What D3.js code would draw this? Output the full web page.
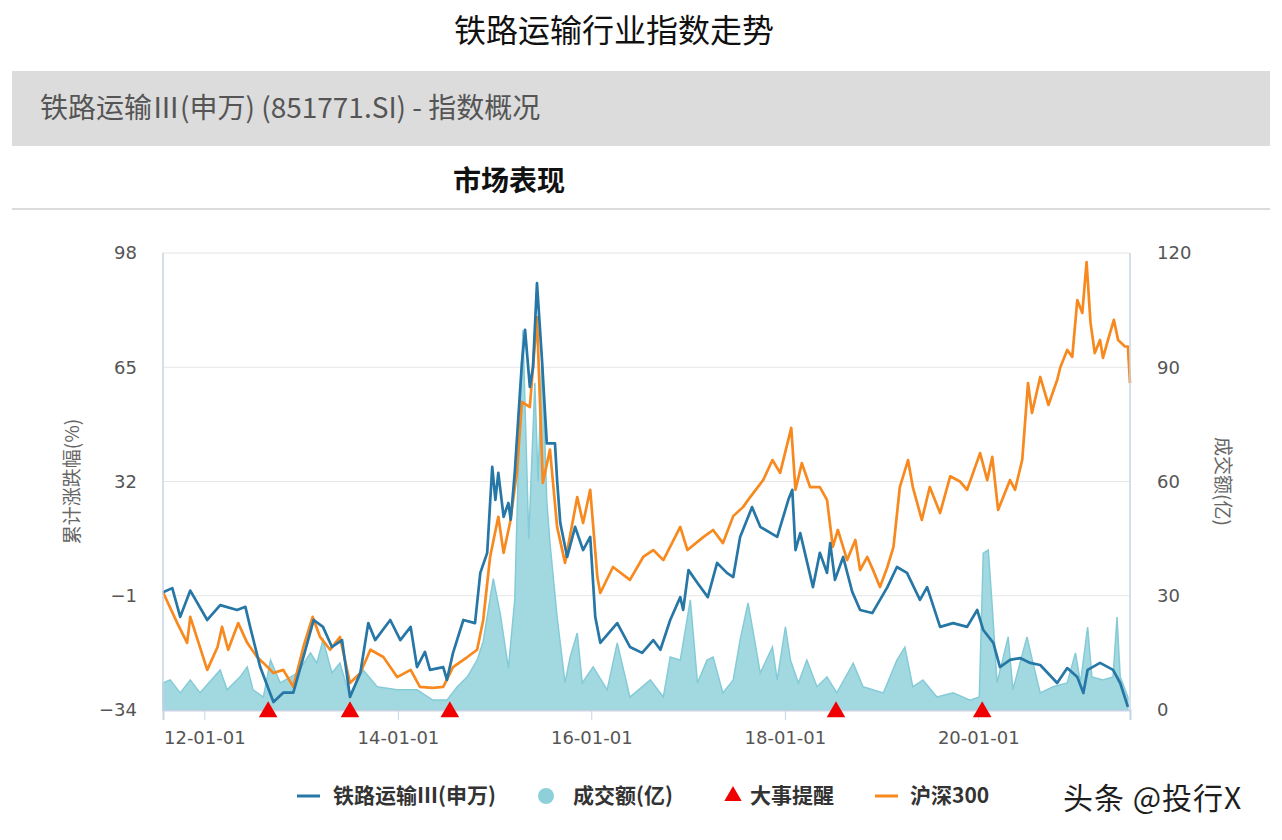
<!DOCTYPE html>
<html>
<head>
<meta charset="utf-8">
<script src="https://cdn.jsdelivr.net/npm/d3@7"></script>
<style>
  body { margin: 0; background: #fff; font-family: "Noto Sans CJK SC", "Noto Sans", sans-serif; }
</style>
</head>
<body>
<svg id="chart" width="1282" height="840"></svg>
<script>
// 铁路运输III(申万) cumulative change, %
var railSeries = [
  ["2011-07-29", 0], ["2011-09-02", 1.2], ["2011-10-02", -7.1], ["2011-11-09", 0.5],
  ["2012-01-12", -8], ["2012-03-01", -3.7], ["2012-05-04", -5.1], ["2012-06-04", -4.2],
  ["2012-06-22", -10], ["2012-07-30", -21.6], ["2012-09-18", -31.7], ["2012-10-25", -29],
  ["2012-12-02", -29], ["2013-01-09", -18.7], ["2013-02-17", -8], ["2013-03-24", -10],
  ["2013-04-27", -15.8], ["2013-06-04", -13.8], ["2013-07-04", -30.2], ["2013-08-12", -23.3],
  ["2013-09-11", -8.9], ["2013-10-07", -13.8], ["2013-12-03", -8], ["2014-01-10", -13.8],
  ["2014-02-18", -10], ["2014-03-14", -21.6], ["2014-04-13", -17.2], ["2014-05-02", -22.4],
  ["2014-06-21", -21.6], ["2014-07-05", -25.3], ["2014-07-28", -17.5], ["2014-09-05", -8],
  ["2014-10-19", -8.9], ["2014-11-08", 5.6], ["2014-12-04", 11.4], ["2014-12-23", 36.2],
  ["2015-01-04", 26.7], ["2015-01-15", 34.5], ["2015-02-04", 21.8], ["2015-02-22", 25.8],
  ["2015-03-03", 21], ["2015-03-18", 34.5], ["2015-04-14", 66.2], ["2015-04-26", 75.8],
  ["2015-05-14", 59.3], ["2015-05-26", 65], ["2015-06-10", 89.3], ["2015-06-29", 67],
  ["2015-07-17", 43], ["2015-08-17", 43], ["2015-08-25", 32.3], ["2015-09-06", 20],
  ["2015-10-02", 10.2], ["2015-11-01", 18.9], ["2015-12-01", 12.2], ["2015-12-28", 16],
  ["2016-01-16", -7.1], ["2016-02-04", -14.6], ["2016-04-08", -8.9], ["2016-05-26", -15.8],
  ["2016-07-11", -17.5], ["2016-08-22", -13.8], ["2016-09-18", -16.6], ["2016-10-25", -8],
  ["2016-12-02", -1.4], ["2016-12-13", -5.1], ["2017-01-02", 6.4], ["2017-02-05", 2.7],
  ["2017-03-16", -1.4], ["2017-04-20", 8.5], ["2017-05-27", 5.6], ["2017-06-20", 4.4],
  ["2017-07-16", 16], ["2017-08-30", 24.6], ["2017-09-30", 18.9], ["2017-12-03", 16],
  ["2018-01-14", 26.7], ["2018-01-29", 29.6], ["2018-02-10", 12.2], ["2018-02-28", 17.1],
  ["2018-04-17", 1.5], ["2018-05-13", 11.4], ["2018-06-09", 5.6], ["2018-06-21", 14.2],
  ["2018-07-09", 3.6], ["2018-08-09", 10.2], ["2018-09-12", 0.2], ["2018-10-12", -5.1],
  ["2018-11-27", -6], ["2019-01-23", 1.5], ["2019-02-28", 7.3], ["2019-04-07", 5.6],
  ["2019-05-26", -2.2], ["2019-06-22", 1.5], ["2019-08-10", -10], ["2019-09-28", -8.9],
  ["2019-11-20", -10], ["2019-12-28", -5.1], ["2020-01-20", -10.9], ["2020-02-27", -14.6],
  ["2020-03-23", -21.6], ["2020-04-30", -19.5], ["2020-06-07", -19], ["2020-07-15", -20.4],
  ["2020-08-22", -21], ["2020-10-25", -26.2], ["2020-12-02", -21.9], ["2021-01-09", -24.5],
  ["2021-02-01", -29.1], ["2021-02-17", -22.4], ["2021-04-05", -20.4], ["2021-05-24", -22.4],
  ["2021-06-20", -26.2], ["2021-07-19", -33.1]
];

// 沪深300 cumulative change, %
var hs300Series = [
  ["2011-07-29", 0], ["2011-09-21", -8.9], ["2011-10-28", -14.6], ["2011-11-09", -7.1],
  ["2012-01-12", -22.4], ["2012-02-20", -15.8], ["2012-03-08", -10], ["2012-03-31", -16.6],
  ["2012-05-08", -8.9], ["2012-06-11", -14.6], ["2012-07-18", -18.7], ["2012-08-11", -20.4],
  ["2012-09-18", -23.3], ["2012-10-25", -22.4], ["2012-12-02", -27.3], ["2013-01-09", -15.8],
  ["2013-02-13", -7.1], ["2013-03-13", -12.9], ["2013-04-20", -16.6], ["2013-05-27", -12.9],
  ["2013-07-04", -26.2], ["2013-08-12", -23.3], ["2013-09-19", -16.6], ["2013-11-07", -18.7],
  ["2013-12-29", -24.5], ["2014-02-18", -22.4], ["2014-03-25", -27.3], ["2014-05-13", -27.6],
  ["2014-06-21", -27.3], ["2014-07-28", -21.6], ["2014-09-20", -18.7], ["2014-10-27", -16.6],
  ["2014-11-19", -8], ["2014-12-15", 10.2], ["2015-01-15", 21.8], ["2015-02-04", 11.4],
  ["2015-02-28", 20], ["2015-03-26", 34.5], ["2015-04-14", 55], ["2015-05-14", 53.5],
  ["2015-06-10", 79.5], ["2015-07-02", 31.6], ["2015-07-29", 41.2], ["2015-08-25", 18.9],
  ["2015-09-24", 8.5], ["2015-11-09", 27.5], ["2015-12-01", 20], ["2015-12-28", 29.6],
  ["2016-01-24", 4.4], ["2016-02-04", -0.2], ["2016-03-23", 7.3], ["2016-05-26", 3.6],
  ["2016-07-15", 10.2], ["2016-08-22", 12.2], ["2016-09-29", 9.3], ["2016-12-02", 18.9],
  ["2016-12-29", 12.2], ["2017-02-28", 16], ["2017-04-05", 18], ["2017-05-12", 14.2],
  ["2017-06-20", 22], ["2017-07-27", 24.6], ["2017-08-23", 27.5], ["2017-10-11", 32.4],
  ["2017-11-15", 38.2], ["2017-12-14", 34.5], ["2018-01-25", 47.5], ["2018-02-10", 29.6],
  ["2018-03-06", 37.3], ["2018-04-06", 30.4], ["2018-05-13", 30.4], ["2018-06-09", 26.7],
  ["2018-07-01", 13.1], ["2018-07-20", 18], ["2018-08-24", 9.3], ["2018-09-24", 15.1],
  ["2018-10-12", 6.4], ["2018-11-08", 10.2], ["2018-11-30", 6.4], ["2018-12-26", 1.5],
  ["2019-01-23", 7.3], ["2019-02-15", 13.1], ["2019-03-11", 30.4], ["2019-04-11", 38.2],
  ["2019-04-29", 30.4], ["2019-06-02", 20.9], ["2019-07-02", 30.4], ["2019-08-10", 22.9],
  ["2019-09-17", 33.5], ["2019-10-24", 32], ["2019-11-20", 29.6], ["2020-01-08", 40.2],
  ["2020-02-04", 32.4], ["2020-02-23", 39.1], ["2020-03-16", 23.8], ["2020-04-30", 32.4],
  ["2020-05-19", 29.6], ["2020-06-15", 38.2], ["2020-07-07", 60.4], ["2020-07-22", 51.8],
  ["2020-08-22", 62.2], ["2020-09-22", 54.1], ["2020-10-25", 61.3], ["2020-11-06", 65],
  ["2020-12-02", 70], ["2020-12-21", 68], ["2021-01-09", 84.4], ["2021-01-28", 80.7],
  ["2021-02-13", 95.4], ["2021-02-28", 77.8], ["2021-03-16", 69.1], ["2021-04-05", 72.9],
  ["2021-04-16", 67.7], ["2021-05-05", 72.9], ["2021-05-27", 78.7], ["2021-06-12", 72.9],
  ["2021-07-08", 71], ["2021-07-19", 71], ["2021-07-27", 60.4]
];

// 成交额(亿)
var volumeSeries = [
  ["2011-07-29", 7.1], ["2011-08-25", 7.9], ["2011-10-02", 4.5], ["2011-11-09", 7.9],
  ["2011-12-16", 4.5], ["2012-03-01", 10.5], ["2012-03-27", 5.3], ["2012-05-15", 8.7],
  ["2012-06-11", 11.3], ["2012-07-03", 5.3], ["2012-08-11", 3.4], ["2012-09-07", 13.1],
  ["2012-10-14", 7.1], ["2012-12-17", 9.7], ["2013-02-05", 15], ["2013-03-01", 12.3],
  ["2013-03-24", 18.4], ["2013-04-27", 9.7], ["2013-05-27", 12.3], ["2013-07-04", 3.4],
  ["2013-08-23", 10.5], ["2013-10-15", 6.1], ["2013-12-29", 5.3], ["2014-03-14", 5.3],
  ["2014-05-13", 2.6], ["2014-07-05", 2.6], ["2014-08-13", 6.1], ["2014-09-20", 8.7],
  ["2014-10-27", 13.1], ["2014-11-19", 18], ["2014-12-27", 34.5], ["2015-01-23", 25],
  ["2015-02-22", 11], ["2015-03-18", 28.9], ["2015-03-30", 59.6], ["2015-04-18", 99.8],
  ["2015-05-10", 45], ["2015-06-02", 85.9], ["2015-06-14", 60], ["2015-06-29", 93.7],
  ["2015-07-17", 55], ["2015-07-29", 43.9], ["2015-08-25", 24.4], ["2015-09-24", 7.1],
  ["2015-10-13", 13.9], ["2015-11-09", 20.2], ["2015-11-28", 7.1], ["2016-01-08", 11.3],
  ["2016-03-01", 5.3], ["2016-04-08", 17.6], ["2016-05-26", 3.4], ["2016-08-11", 7.9],
  ["2016-09-29", 3.4], ["2016-10-25", 13.9], ["2016-12-02", 13.1], ["2017-01-09", 28.9],
  ["2017-02-05", 7.1], ["2017-03-13", 13.1], ["2017-04-05", 13.9], ["2017-05-12", 4.5],
  ["2017-06-20", 7.9], ["2017-07-16", 18.4], ["2017-08-15", 28.1], ["2017-09-04", 20.2],
  ["2017-09-30", 9.7], ["2017-11-15", 16.5], ["2017-12-03", 7.9], ["2018-01-03", 21.8],
  ["2018-01-22", 13.1], ["2018-02-21", 7.1], ["2018-03-25", 13.1], ["2018-05-02", 6.1],
  ["2018-06-09", 8.7], ["2018-07-16", 4.5], ["2018-09-16", 12.3], ["2018-10-23", 6.1],
  ["2019-01-08", 4.5], ["2019-02-28", 13.1], ["2019-03-30", 16.5], ["2019-04-29", 6.1],
  ["2019-06-06", 7.9], ["2019-07-29", 3.4], ["2019-09-28", 4.5], ["2019-12-01", 2.6],
  ["2020-01-05", 3.4], ["2020-01-20", 41.2], ["2020-02-08", 42], ["2020-02-23", 27],
  ["2020-03-12", 7.1], ["2020-04-23", 19.2], ["2020-05-11", 5.3], ["2020-07-03", 19.2],
  ["2020-07-26", 12.3], ["2020-08-22", 4.5], ["2020-10-10", 6.1], ["2020-12-02", 7.1],
  ["2021-01-02", 15], ["2021-01-21", 7.1], ["2021-02-17", 21.8], ["2021-03-05", 8.7],
  ["2021-04-16", 7.9], ["2021-05-24", 8.7], ["2021-06-08", 24.4], ["2021-06-20", 8.7],
  ["2021-07-19", 3.4]
];

// 大事提醒
var eventDates = ["2012-08-29", "2013-07-04", "2014-07-16", "2018-07-13", "2020-01-16"];

var dateRange = ["2011-07-29", "2021-07-27"];
var xTickDates = ["2012-01-01", "2014-01-01", "2016-01-01", "2018-01-01", "2020-01-01"];
var leftTicks = [-34, -1, 32, 65, 98];
var rightTicks = [0, 30, 60, 90, 120];

var legendItems = ["铁路运输Ⅲ(申万)", "成交额(亿)", "大事提醒", "沪深300"];

var parseDate = d3.timeParse("%Y-%m-%d");
var fmt = d3.timeFormat("%y-%m-%d");

var blue = "#2676a6", orange = "#f7891e", teal = "#a2d9e1", tealEdge = "#85cbd7";
var axisCol = "#c6d4e4", gridCol = "#e6e6e6", labelCol = "#555";
var tickFont = "'DejaVu Sans', Verdana, sans-serif";

var margin = {top: 253, right: 152, bottom: 130, left: 163},
    width = 1282 - margin.left - margin.right,
    height = 840 - margin.top - margin.bottom;

var svg = d3.select("#chart");

// header parts
svg.append("text")
    .attr("x", 614).attr("y", 42)
    .attr("text-anchor", "middle")
    .style("font-size", "32px").style("fill", "#111")
    .text("铁路运输行业指数走势");

svg.append("rect")
    .attr("x", 12).attr("y", 71).attr("width", 1258).attr("height", 75)
    .style("fill", "#dcdcdc");

svg.append("text")
    .attr("x", 40).attr("y", 118)
    .style("font-size", "28px").style("fill", "#555")
    .text("铁路运输Ⅲ(申万) (851771.SI) - 指数概况");

svg.append("text")
    .attr("x", 509).attr("y", 191)
    .attr("text-anchor", "middle")
    .style("font-size", "28px").style("font-weight", "bold").style("fill", "#111")
    .text("市场表现");

svg.append("line")
    .attr("x1", 12).attr("x2", 1270).attr("y1", 209).attr("y2", 209)
    .style("stroke", "#cfcfcf").style("stroke-width", 1.5);

var x = d3.scaleTime()
    .domain(dateRange.map(parseDate))
    .range([0, width]);

var yL = d3.scaleLinear().domain([-34, 98]).range([height, 0]);
var yR = d3.scaleLinear().domain([0, 120]).range([height, 0]);

var g = svg.append("g")
    .attr("transform", "translate(" + margin.left + "," + margin.top + ")");

// grid
g.selectAll(".grid").data(leftTicks.slice(1))
  .enter().append("line")
    .attr("x1", 0).attr("x2", width)
    .attr("y1", function(d) { return yL(d); })
    .attr("y2", function(d) { return yL(d); })
    .style("stroke", gridCol).style("stroke-width", 1.2);

function rows(series) {
  return series.map(function(d) { return {date: parseDate(d[0]), value: +d[1]}; });
}

// volume area
var area = d3.area()
    .x(function(d) { return x(d.date); })
    .y0(height)
    .y1(function(d) { return yR(d.value); });

g.append("path")
    .datum(rows(volumeSeries))
    .attr("d", area)
    .style("fill", teal)
    .style("stroke", tealEdge).style("stroke-width", 1.5);

var line = d3.line()
    .x(function(d) { return x(d.date); })
    .y(function(d) { return yL(d.value); });

g.append("path")
    .datum(rows(hs300Series))
    .attr("d", line)
    .style("fill", "none").style("stroke", orange)
    .style("stroke-width", 2.7).style("stroke-linejoin", "round");

g.append("path")
    .datum(rows(railSeries))
    .attr("d", line)
    .style("fill", "none").style("stroke", blue)
    .style("stroke-width", 2.7).style("stroke-linejoin", "round");

// side axis lines
g.append("line").attr("x1", 0).attr("x2", 0).attr("y1", 0).attr("y2", height)
    .style("stroke", axisCol).style("stroke-width", 1.5);
g.append("line").attr("x1", width).attr("x2", width).attr("y1", 0).attr("y2", height)
    .style("stroke", axisCol).style("stroke-width", 1.5);

// axes
var xAxis = d3.axisBottom(x)
    .tickValues(xTickDates.map(parseDate))
    .tickFormat(fmt)
    .tickSize(10)
    .tickPadding(11);

var gx = g.append("g")
    .attr("transform", "translate(0," + height + ")")
    .call(xAxis);
gx.select(".domain").style("stroke", axisCol).style("stroke-width", 2);
gx.selectAll(".tick line").style("stroke", axisCol);
gx.selectAll("text").style("font-size", "18px").style("fill", labelCol)
    .style("font-family", tickFont);

var gl = g.append("g")
    .call(d3.axisLeft(yL).tickValues(leftTicks).tickSize(0).tickPadding(26));
gl.select(".domain").remove();
gl.selectAll("text").style("font-size", "18px").style("fill", labelCol)
    .style("font-family", tickFont);

var gr = g.append("g")
    .attr("transform", "translate(" + width + ",0)")
    .call(d3.axisRight(yR).tickValues(rightTicks).tickSize(0).tickPadding(27));
gr.select(".domain").remove();
gr.selectAll("text").style("font-size", "18px").style("fill", labelCol)
    .style("font-family", tickFont);

// axis titles
g.append("text")
    .attr("transform", "translate(-84," + yL(32) + ") rotate(-90)")
    .attr("text-anchor", "middle")
    .style("font-size", "19px").style("fill", "#666")
    .text("累计涨跌幅(%)");

g.append("text")
    .attr("transform", "translate(" + (width + 86) + "," + yR(60) + ") rotate(90)")
    .attr("text-anchor", "middle")
    .style("font-size", "19px").style("fill", "#666")
    .text("成交额(亿)");

// event markers
var tri = d3.symbol().type(d3.symbolTriangle).size(150);
g.selectAll(".event").data(eventDates)
  .enter().append("path")
    .attr("d", tri)
    .attr("transform", function(d) { return "translate(" + x(parseDate(d)) + "," + (height + 2) + ")"; })
    .style("fill", "#f00000");

// legend
var legendX = [297, 538, 725, 875];
var lg = svg.append("g").attr("transform", "translate(0,796)");
lg.append("line").attr("x1", legendX[0]).attr("x2", legendX[0] + 23).attr("y1", 0).attr("y2", 0)
    .style("stroke", blue).style("stroke-width", 3);
lg.append("circle").attr("cx", legendX[1] + 8).attr("cy", 0).attr("r", 8)
    .style("fill", "#8dd0d9");
lg.append("path").attr("d", d3.symbol().type(d3.symbolTriangle).size(130))
    .attr("transform", "translate(" + (legendX[2] + 8) + ",0)")
    .style("fill", "#f00000");
lg.append("line").attr("x1", legendX[3]).attr("x2", legendX[3] + 23).attr("y1", 0).attr("y2", 0)
    .style("stroke", orange).style("stroke-width", 3);

var textX = [333, 573, 750, 910];
lg.selectAll(".ltext").data(legendItems)
  .enter().append("text")
    .attr("x", function(d, i) { return textX[i]; })
    .attr("y", 7)
    .style("font-size", "21px").style("font-weight", "bold").style("fill", "#333")
    .text(function(d) { return d; });

// watermark
svg.append("text")
    .attr("x", 1063).attr("y", 809)
    .style("font-size", "30px").style("fill", "#1e1e1e").style("letter-spacing", "1px")
    .style("paint-order", "stroke").style("stroke", "#fff").style("stroke-width", 1)
    .text("头条 @投行X");
</script>
</body>
</html>
